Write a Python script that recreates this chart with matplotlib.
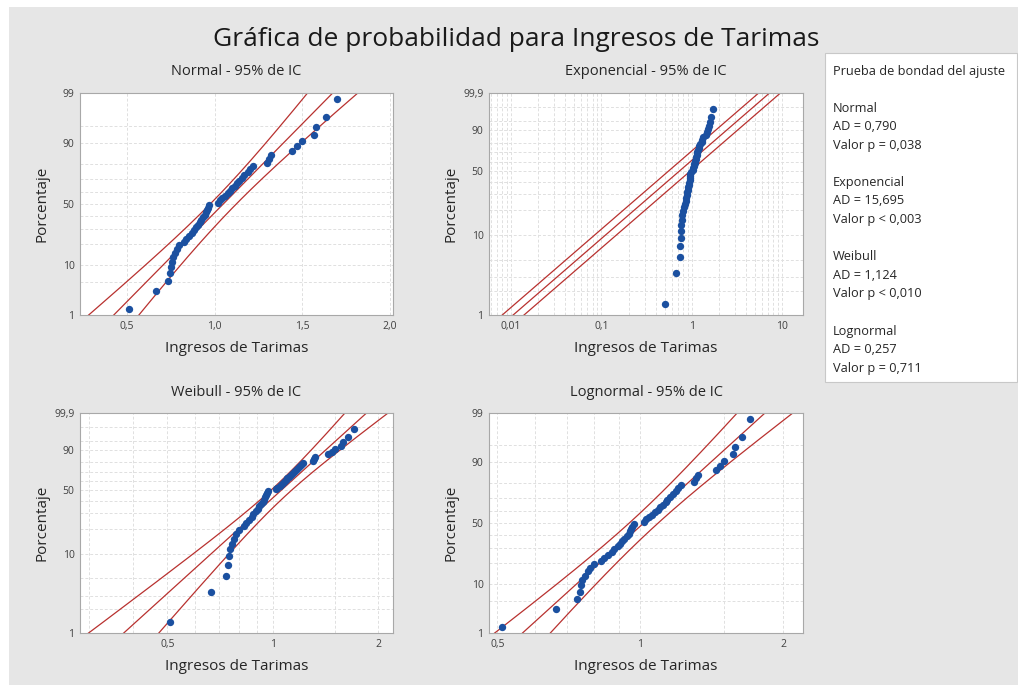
import numpy as np
import matplotlib.pyplot as plt
from matplotlib.patches import Rectangle
from statistics import NormalDist

plt.rcParams['font.family'] = ['Open Sans', 'DejaVu Sans']

# Ingresos de Tarimas (valores ordenados)
ingresos = [0.51, 0.665, 0.735, 0.745, 0.75, 0.755, 0.765, 0.775, 0.785, 0.80,
            0.825, 0.84, 0.855, 0.87, 0.88, 0.895, 0.905, 0.915, 0.925, 0.935,
            0.945, 0.95, 0.955, 0.96, 0.97, 1.02, 1.03, 1.045, 1.06, 1.075,
            1.09, 1.10, 1.115, 1.13, 1.14, 1.155, 1.17, 1.19, 1.20, 1.22,
            1.30, 1.31, 1.32, 1.44, 1.47, 1.50, 1.565, 1.58, 1.635, 1.70]

dist_names = ["Normal", "Exponencial", "Weibull", "Lognormal"]
ad_values = ["0,790", "15,695", "1,124", "0,257"]
p_values = ["= 0,038", "< 0,003", "< 0,010", "= 0,711"]

title = "Gráfica de probabilidad para Ingresos de Tarimas"
xlabel = "Ingresos de Tarimas"
ylabel = "Porcentaje"

BG = '#e6e6e6'
BLUE = '#1b50a0'
RED = '#b8312f'
GRID = '#e0e0e0'
TXT = '#262626'

nd = NormalDist()
_ppf = np.vectorize(nd.inv_cdf, otypes=[float])
_cdf = np.vectorize(nd.cdf, otypes=[float])


def pct_to_z(p):
    p = np.clip(np.asarray(p, float) / 100, 1e-12, 1 - 1e-12)
    return _ppf(p)


def z_to_pct(z):
    return _cdf(np.asarray(z, float)) * 100


def pct_to_w(p):
    p = np.clip(np.asarray(p, float) / 100, 1e-12, 1 - 1e-12)
    return np.log(-np.log1p(-p))


def w_to_pct(w):
    return 100 * (-np.expm1(-np.exp(np.asarray(w, float))))


x = np.array(ingresos)
n = len(x)
ranks = (np.arange(1, n + 1) - 0.3) / (n + 0.4) * 100
lx = np.log(x)

# ajustes
mu, sd = x.mean(), x.std()
theta = x.mean()
m_ln, s_ln = lx.mean(), lx.std()


def g(beta):
    xb = x ** beta
    return np.sum(xb * lx) / np.sum(xb) - 1 / beta - lx.mean()


lo, hi = 0.1, 50.0
for _ in range(100):
    mid = (lo + hi) / 2
    if g(mid) > 0:
        hi = mid
    else:
        lo = mid
beta = (lo + hi) / 2
eta = np.mean(x ** beta) ** (1 / beta)

fig = plt.figure(figsize=(10.18, 6.85), dpi=100)
fig.patch.set_facecolor('white')
fig.patches.append(Rectangle((9 / 1018, 0), 1, 1 - 7 / 685, transform=fig.transFigure,
                             facecolor=BG, edgecolor='none', zorder=-10))

W, H = 1018, 685


def make_ax(left, top, right, bottom):
    return fig.add_axes([left / W, 1 - bottom / H, (right - left) / W, (bottom - top) / H])


axes = [make_ax(80, 93, 393, 315), make_ax(489, 93, 803, 315),
        make_ax(80, 413, 393, 633), make_ax(489, 413, 803, 633)]

for ax in axes:
    ax.set_facecolor('white')
    for s in ax.spines.values():
        s.set_color('#a8a8a8')
        s.set_linewidth(0.8)
    ax.tick_params(which='both', length=0, labelsize=7.5, colors='#404040', pad=4)
    ax.grid(True, which='both', color=GRID, linestyle=(0, (3, 2)), linewidth=0.7)
    ax.set_axisbelow(True)

pct_minor = [5, 20, 30, 40, 60, 70, 80, 95]

# Normal
ax = axes[0]
ax.set_yscale('function', functions=(pct_to_z, z_to_pct))
zz = np.linspace(-3, 3, 200)
pp = z_to_pct(zz)
half = 1.96 * sd * np.sqrt((1 + zz ** 2 / 2) / n)
xc = mu + zz * sd
for xl in (xc - half, xc, xc + half):
    ax.plot(xl, pp, color=RED, lw=0.9, zorder=2)
ax.scatter(x, ranks, s=28, color=BLUE, linewidths=0, zorder=3)
ax.set_xlim(0.233, 2.017)
ax.set_ylim(1, 99)
ax.set_xticks([0.5, 1.0, 1.5, 2.0], ['0,5', '1,0', '1,5', '2,0'])
ax.set_yticks([1, 10, 50, 90, 99], ['1', '10', '50', '90', '99'])
ax.set_yticks(pct_minor, minor=True)

# Exponencial
ax = axes[1]
ax.set_xscale('log')
ax.set_yscale('function', functions=(pct_to_w, w_to_pct))
ww = np.linspace(-8, 3, 200)
pp = w_to_pct(ww)
d = 1.96 / np.sqrt(n)
for k in (-d, 0, d):
    ax.plot(theta * np.exp(ww + k), pp, color=RED, lw=0.9, zorder=2)
ax.scatter(x, ranks, s=28, color=BLUE, linewidths=0, zorder=3)
ax.set_xlim(0.0057, 17)
ax.set_ylim(1, 99.9)
ax.set_xticks([0.01, 0.1, 1, 10], ['0,01', '0,1', '1', '10'])
ax.set_yticks([1, 10, 50, 90, 99.9], ['1', '10', '50', '90', '99,9'])
ax.set_yticks([2, 3, 5, 20, 30, 40, 60, 70, 80, 95, 99], minor=True)
ax.xaxis.set_minor_formatter(plt.NullFormatter())

# Weibull
ax = axes[2]
ax.set_xscale('log')
ax.set_yscale('function', functions=(pct_to_w, w_to_pct))
b = 1 / beta
u = np.log(eta)
yc = u + ww * b
half = 1.96 * b * np.sqrt((1.1087 + 0.6079 * ww ** 2 + 2 * 0.2570 * ww) / n)
for yl in (yc - half, yc, yc + half):
    ax.plot(np.exp(yl), pp, color=RED, lw=0.9, zorder=2)
ax.scatter(x, ranks, s=28, color=BLUE, linewidths=0, zorder=3)
ax.set_xlim(0.282, 2.2)
ax.set_ylim(1, 99.9)
ax.set_xticks([0.5, 1, 2], ['0,5', '1', '2'])
ax.set_xticks([0.3, 0.4, 0.6, 0.7, 0.8, 0.9, 1.5], minor=True)
ax.xaxis.set_minor_formatter(plt.NullFormatter())
ax.set_yticks([1, 10, 50, 90, 99.9], ['1', '10', '50', '90', '99,9'])
ax.set_yticks([2, 3, 5, 20, 30, 40, 60, 70, 80, 95, 99], minor=True)

# Lognormal
ax = axes[3]
ax.set_xscale('log')
ax.set_yscale('function', functions=(pct_to_z, z_to_pct))
pp = z_to_pct(zz)
yc = m_ln + zz * s_ln
half = 1.96 * s_ln * np.sqrt((1 + zz ** 2 / 2) / n)
for yl in (yc - half, yc, yc + half):
    ax.plot(np.exp(yl), pp, color=RED, lw=0.9, zorder=2)
ax.scatter(x, ranks, s=28, color=BLUE, linewidths=0, zorder=3)
ax.set_xlim(0.48, 2.2)
ax.set_ylim(1, 99)
ax.set_xticks([0.5, 1, 2], ['0,5', '1', '2'])
ax.set_xticks([0.6, 0.7, 0.8, 0.9, 1.5], minor=True)
ax.xaxis.set_minor_formatter(plt.NullFormatter())
ax.set_yticks([1, 10, 50, 90, 99], ['1', '10', '50', '90', '99'])
ax.set_yticks(pct_minor, minor=True)

for ax, name in zip(axes, dist_names):
    ax.text(0.5, 1.095, f"{name} - 95% de IC", transform=ax.transAxes,
            ha='center', va='center', fontsize=10.5, color=TXT)
    ax.set_xlabel(xlabel, fontsize=11, color=TXT)
    ax.xaxis.set_label_coords(0.5, -0.15)
    ax.xaxis.label.set_verticalalignment('center')
    ax.set_ylabel(ylabel, fontsize=11, color=TXT)
    ax.yaxis.set_label_coords(-0.12, 0.5)
    ax.yaxis.label.set_verticalalignment('center')

fig.text(516 / W, 1 - 39 / H, title, ha='center', va='center', fontsize=19, color='#1a1a1a')

# cuadro de bondad del ajuste
fig.patches.append(Rectangle((825 / W, 1 - 382 / H), 192 / W, 329 / H, transform=fig.transFigure,
                             facecolor='white', edgecolor='#c8c8c8', linewidth=0.8, zorder=-5))
tx = 833 / W
fs = 9.2
fig.text(tx, 1 - 72 / H, "Prueba de bondad del ajuste", fontsize=fs, va='center', color=TXT)
step = 18.6
y0 = 108
for i, name in enumerate(dist_names):
    yb = y0 + i * 4 * step
    fig.text(tx, 1 - yb / H, name, fontsize=fs, va='center', color=TXT)
    fig.text(tx, 1 - (yb + step) / H, f"AD = {ad_values[i]}", fontsize=fs, va='center', color=TXT)
    fig.text(tx, 1 - (yb + 2 * step) / H, f"Valor p {p_values[i]}", fontsize=fs, va='center', color=TXT)

fig.savefig('out.png', dpi=100)
